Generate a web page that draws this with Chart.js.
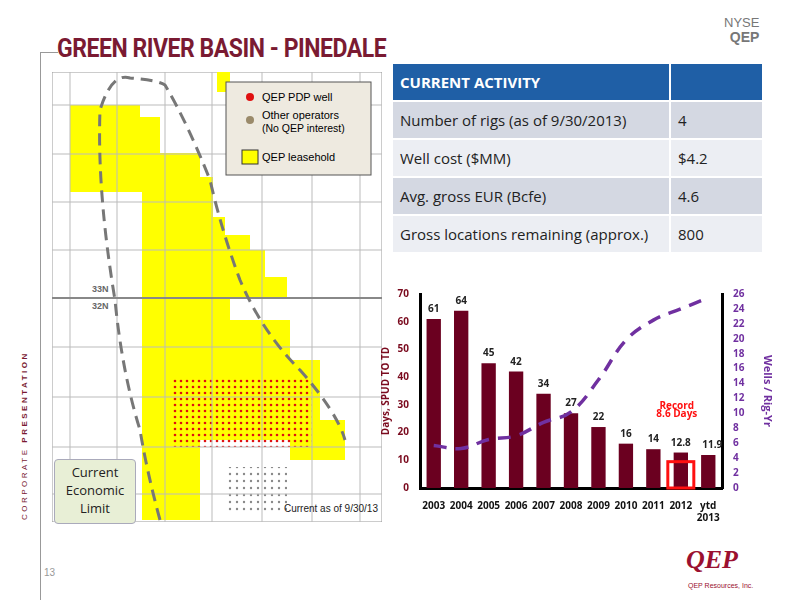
<!DOCTYPE html>
<html><head><meta charset="utf-8">
<script src="https://cdn.jsdelivr.net/npm/chart.js@4"></script>
<style>
body{margin:0;width:800px;height:600px;background:#fff;position:relative;font-family:"Liberation Sans",Arial,sans-serif;overflow:hidden}
.abs{position:absolute}
#title{left:57px;top:34px;font:bold 25px "Roboto","Liberation Sans";color:#7a1a32;letter-spacing:-0.5px;transform:scaleX(0.92);transform-origin:left}
table{border-collapse:collapse;font-family:"Open Sans","DejaVu Sans";font-size:15px;color:#222}
td{height:36px;padding:0 7px;border-top:2px solid #fff}
</style></head><body>
<div class="abs" style="left:40px;top:52px;width:18px;border-top:1px solid #999"></div>
<div class="abs" style="left:40px;top:52px;height:548px;border-left:1px solid #999"></div>
<div id="title" class="abs">GREEN RIVER BASIN - PINEDALE</div>
<div class="abs" style="left:724px;top:16px;font:13px 'Liberation Sans';color:#777;text-align:right;line-height:14px">NYSE<br><b style="font-size:14px">QEP</b></div>
<div class="abs" style="left:20px;top:520px;transform:rotate(-90deg);transform-origin:left top;font-size:8px;letter-spacing:2.5px;color:#7a1a32;white-space:nowrap">CORPORATE <b>PRESENTATION</b></div>
<div class="abs" style="left:44px;top:567px;font-size:10px;color:#999">13</div>
<div class="abs" style="left:686px;top:545px;font:bold 26px 'Liberation Serif';color:#9b1030;font-style:italic">QEP</div>
<div class="abs" style="left:688px;top:582px;font-size:7px;color:#9b1030">QEP Resources, Inc.</div>

<svg class="abs" style="left:52px;top:72px" width="330" height="450">
<defs><pattern id="dots" width="6" height="6" patternUnits="userSpaceOnUse"><circle cx="3" cy="3" r="1.3" fill="#e01010"/></pattern>
<pattern id="gdots" width="7" height="7" patternUnits="userSpaceOnUse"><circle cx="3" cy="3" r="1.2" fill="#888"/></pattern></defs>
<rect width="330" height="450" fill="#fff" stroke="#999"/>
<polygon fill="#ffff00" points="18,33 88,33 88,45 108,45 108,81 148,81 148,105 161,105 161,145 173,145 173,163 198,163 198,178 213,178 213,205 235,205 235,225 90,225 90,120 18,120"/>
<polygon fill="#ffff00" points="90,225 178,225 178,248 238,248 238,288 268,288 268,348 293,348 293,388 238,388 238,368 148,368 148,448 90,448"/>
<polygon fill="#ffff00" points="165,0 178,0 178,20 165,20"/>
<rect x="120" y="305" width="140" height="70" fill="url(#dots)"/>
<rect x="175" y="395" width="60" height="45" fill="url(#gdots)"/>
<g stroke="#bbb" stroke-width="1">
<line x1="18" y1="0" x2="18" y2="450"/><line x1="65" y1="0" x2="65" y2="450"/><line x1="113" y1="0" x2="113" y2="450"/><line x1="160" y1="0" x2="160" y2="450"/><line x1="210" y1="0" x2="210" y2="450"/><line x1="260" y1="0" x2="260" y2="450"/><line x1="308" y1="0" x2="308" y2="450"/>
<line x1="0" y1="33" x2="330" y2="33"/><line x1="0" y1="82" x2="330" y2="82"/><line x1="0" y1="130" x2="330" y2="130"/><line x1="0" y1="178" x2="330" y2="178"/><line x1="0" y1="226" x2="330" y2="226" stroke="#888" stroke-width="2"/><line x1="0" y1="275" x2="330" y2="275"/><line x1="0" y1="325" x2="330" y2="325"/><line x1="0" y1="375" x2="330" y2="375"/><line x1="0" y1="422" x2="330" y2="422"/>
</g>
<path d="M108,448 Q95,400 88,358 Q70,300 63,228 Q45,120 48,38 Q60,0 78,6 Q105,8 113,13 Q135,50 158,108 Q170,160 188,208 Q210,260 248,298 Q285,340 293,368" fill="none" stroke="#777" stroke-width="3" stroke-dasharray="12,7"/>
<text x="40" y="220" font-size="9" fill="#666" font-weight="bold">33N</text>
<text x="40" y="237" font-size="9" fill="#666" font-weight="bold">32N</text>
<text x="232" y="440" font-size="10" fill="#222">Current as of 9/30/13</text>
<rect x="174" y="10" width="145" height="93" fill="#eeeae0" stroke="#555"/>
<circle cx="198" cy="25" r="4" fill="#e01010"/><text x="210" y="29" font-size="11">QEP PDP well</text>
<circle cx="198" cy="48" r="4" fill="#9a8a6a"/><text x="210" y="47" font-size="11">Other operators</text><text x="210" y="60" font-size="10.5">(No QEP interest)</text>
<rect x="190" y="78" width="16" height="14" fill="#ffff00" stroke="#333"/><text x="210" y="89" font-size="11">QEP leasehold</text>
</svg>
<div class="abs" style="left:54px;top:459px;width:80px;height:60px;background:#e8efd6;border:1px solid #aab;border-radius:4px;text-align:center;font:13px 'Open Sans';line-height:18px;color:#222;padding-top:3px">Current<br>Economic<br>Limit</div>

<table class="abs" style="left:393px;top:62px;width:369px">
<tr style="background:#1f5fa6;color:#fff;font-weight:bold"><td style="width:262px">CURRENT ACTIVITY</td><td style="border-left:2px solid #fff"></td></tr>
<tr style="background:#d4d8e2"><td>Number of rigs (as of 9/30/2013)</td><td style="border-left:2px solid #fff">4</td></tr>
<tr style="background:#eceef3"><td>Well cost ($MM)</td><td style="border-left:2px solid #fff">$4.2</td></tr>
<tr style="background:#d4d8e2"><td>Avg. gross EUR (Bcfe)</td><td style="border-left:2px solid #fff">4.6</td></tr>
<tr style="background:#eceef3"><td>Gross locations remaining (approx.)</td><td style="border-left:2px solid #fff">800</td></tr>
</table>

<div class="abs" style="left:380px;top:282px;width:400px;height:246px"><canvas id="c"></canvas></div>
<script>
const categories=["2003","2004","2005","2006","2007","2008","2009","2010","2011","2012",["ytd","2013"]];
const daysSpudToTD=[61,64,45,42,34,27,22,16,14,12.8,11.9];
const wellsPerRigYr=[5.7,5.3,6.5,7.0,8.8,10.2,14.5,19.8,22.5,24.0,25.5];
const leftTicks=[0,10,20,30,40,50,60,70];
const rightTicks=[0,2,4,6,8,10,12,14,16,18,20,22,24,26];
const recordIndex=9, recordValue=9.5;
const F="'Open Sans','DejaVu Sans'";
const labels={id:'labels',afterDatasetsDraw(ch){const c=ch.ctx,m=ch.getDatasetMeta(1);c.save();c.font="bold 10px "+F;c.fillStyle="#222";c.textAlign="center";
m.data.forEach((b,i)=>{c.fillText(String(daysSpudToTD[i]),b.x+(i==10?4:0),b.y-7);});
const y=ch.scales.y,b=m.data[recordIndex];c.strokeStyle="#ff1010";c.lineWidth=3;const w=26;c.strokeRect(b.x-w/2,y.getPixelForValue(recordValue),w,y.getPixelForValue(0)-y.getPixelForValue(recordValue));
c.fillStyle="#ff1010";c.fillText("Record",b.x-4,y.getPixelForValue(28.5));c.fillText("8.6 Days",b.x-4,y.getPixelForValue(25.5));c.restore();}};
new Chart(document.getElementById('c'),{data:{labels:categories,datasets:[
{type:'line',data:wellsPerRigYr,yAxisID:'y1',borderColor:'#7030a0',borderWidth:3.5,borderDash:[13,9],pointRadius:0,tension:0.4,fill:false,order:0},
{type:'bar',data:daysSpudToTD,yAxisID:'y',backgroundColor:'#6b0020',categoryPercentage:0.95,barPercentage:0.55,order:1}]},
options:{responsive:true,maintainAspectRatio:false,animation:false,layout:{padding:{top:12,right:6,left:0,bottom:0}},plugins:{legend:{display:false},tooltip:{enabled:false}},
scales:{x:{grid:{display:false},border:{color:'#000',width:3},ticks:{color:'#111',font:{family:F,size:10,weight:'bold'},maxRotation:0,autoSkip:false,padding:4}},
y:{min:0,max:70,afterBuildTicks:s=>{s.ticks=leftTicks.map(v=>({value:v}))},grid:{display:false},border:{color:'#000',width:3},ticks:{autoSkip:false,color:'#7a0a1e',font:{family:F,size:10,weight:'bold'}},title:{display:true,text:'Days, SPUD TO TD',color:'#7a0a1e',font:{family:F,size:10,weight:'bold'},padding:0},afterFit:s=>{s.width=40}},
y1:{position:'right',min:0,max:26,afterBuildTicks:s=>{s.ticks=rightTicks.map(v=>({value:v}))},grid:{display:false},border:{color:'#000',width:3},ticks:{autoSkip:false,color:'#7030a0',font:{family:F,size:10,weight:'bold'}},title:{display:true,text:'Wells / Rig-Yr',color:'#7030a0',font:{family:F,size:11,weight:'bold'},padding:0},afterFit:s=>{s.width=52}}}},
plugins:[labels]});
</script>
</body></html>
